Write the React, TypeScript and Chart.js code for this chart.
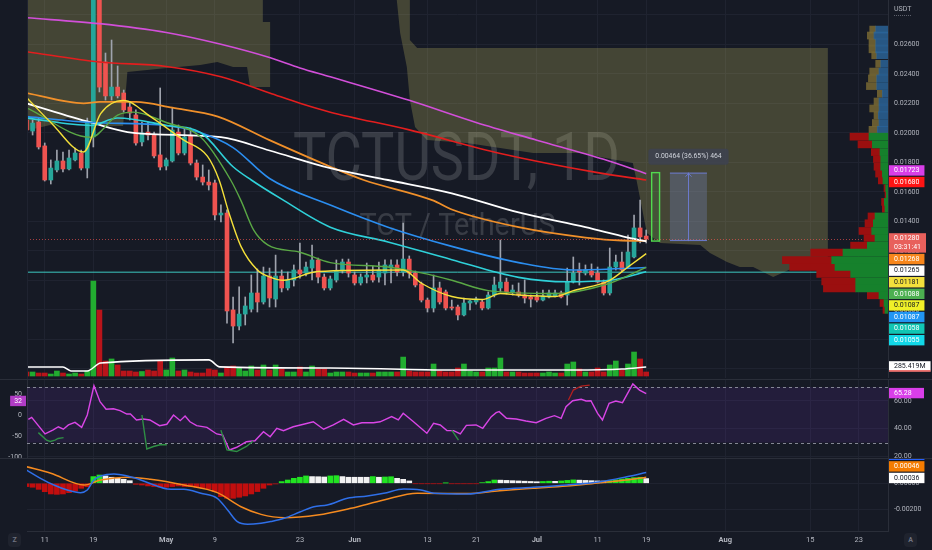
import React, { useEffect, useRef } from "react";
import { Chart, registerables } from "chart.js";

Chart.register(...registerables);

const FONT = "Roboto, 'Liberation Sans', sans-serif";
Chart.defaults.font.family = FONT;

const BG = "#161a25";
const GRID = "#1f2330";
const BORDER = "#2a2e39";
const AXIS_TEXT = "#b2b5be";

// ---------- time axis (day index, 0 = 8 Apr) ----------
const DAY_MIN = 0.08;
const DAY_MAX = 141.8;
const TICK_DAYS = [3, 11, 23, 31, 45, 54, 66, 74, 84, 94, 102, 115, 129, 137];
const TICK_LABELS = ["11", "19", "May", "9", "23", "Jun", "13", "21", "Jul", "11", "19", "Aug", "15", "23"];
const MONTHS = ["May", "Jun", "Jul", "Aug"];

// ---------- price panel ----------
const PRICE_MIN = 0.003376;
const PRICE_MAX = 0.029004;

const OPEN = [
  0.02087, 0.02012, 0.02073, 0.01911, 0.0168, 0.01748, 0.01809, 0.01755, 0.01816, 0.01863,
  0.01761, 0.01972, 0.0305, 0.0248, 0.0225, 0.0231, 0.0227, 0.02175, 0.02121, 0.01938,
  0.02005, 0.01985, 0.0185, 0.01775, 0.01809, 0.02005, 0.01863, 0.01985, 0.01795, 0.017,
  0.01666, 0.0166, 0.01443, 0.01456, 0.00799, 0.0069, 0.00771, 0.00805, 0.00914, 0.00853,
  0.01029, 0.00873, 0.01029, 0.00948, 0.01002, 0.0107, 0.01049, 0.01083, 0.01138, 0.01022,
  0.00948, 0.01002, 0.01063, 0.01124, 0.01036, 0.00982, 0.01022, 0.01036, 0.01022, 0.01049,
  0.01083, 0.01104, 0.01056, 0.01144, 0.01049, 0.00975, 0.00866, 0.00812, 0.00948, 0.00921,
  0.00819, 0.00819, 0.00765, 0.00846, 0.00853, 0.00853, 0.00812, 0.009, 0.00948, 0.00988,
  0.00921, 0.00921, 0.009, 0.00887, 0.00887, 0.00866, 0.00887, 0.00894, 0.00914, 0.009,
  0.00988, 0.0107, 0.01049, 0.01063, 0.01049, 0.00988, 0.00914, 0.0109, 0.01124, 0.0109,
  0.01158, 0.01355, 0.013,
];
const HIGH = [
  0.02107, 0.02087, 0.021, 0.01931, 0.01816, 0.01883, 0.0187, 0.01883, 0.01897, 0.01883,
  0.021, 0.032, 0.0315, 0.02541, 0.02629, 0.02453, 0.0229, 0.02202, 0.02155, 0.02073,
  0.02073, 0.02005, 0.02304, 0.01829, 0.02168, 0.02053, 0.02033, 0.02033, 0.01816, 0.01782,
  0.01748, 0.0168, 0.01511, 0.01477, 0.00887, 0.00955, 0.00887, 0.01036, 0.01077, 0.0109,
  0.01083, 0.01171, 0.0107, 0.01056, 0.01104, 0.01253, 0.01124, 0.01239, 0.01151, 0.01043,
  0.01029, 0.01138, 0.01144, 0.01144, 0.01056, 0.01043, 0.01117, 0.01097, 0.01124, 0.01138,
  0.01138, 0.01138, 0.01388, 0.01165, 0.01063, 0.00988, 0.0088, 0.01036, 0.00988, 0.00934,
  0.00866, 0.00832, 0.0088, 0.00866, 0.00887, 0.00866, 0.00921, 0.01022, 0.01273, 0.01015,
  0.00968, 0.00982, 0.01002, 0.009, 0.00921, 0.00934, 0.00934, 0.00934, 0.00927, 0.01083,
  0.01158, 0.01117, 0.01104, 0.01111, 0.0109, 0.01002, 0.01219, 0.01171, 0.01192, 0.01307,
  0.01443, 0.01544, 0.01341,
];
const LOW = [
  0.01999, 0.01985, 0.0189, 0.01673, 0.01653, 0.01734, 0.01734, 0.01748, 0.01809, 0.01748,
  0.01694, 0.01904, 0.02277, 0.02222, 0.02222, 0.02236, 0.02141, 0.02087, 0.01917, 0.01911,
  0.01951, 0.01829, 0.01748, 0.01748, 0.01802, 0.0185, 0.0185, 0.01782, 0.0168, 0.01646,
  0.01612, 0.01409, 0.01395, 0.0071, 0.00575, 0.00663, 0.00697, 0.00785, 0.00785, 0.00839,
  0.00819, 0.00819, 0.00921, 0.00934, 0.00961, 0.01015, 0.01029, 0.01002, 0.00982, 0.00934,
  0.00934, 0.00988, 0.01049, 0.01022, 0.00968, 0.00968, 0.00982, 0.00988, 0.00988, 0.00968,
  0.00982, 0.01029, 0.01029, 0.01015, 0.00955, 0.00853, 0.00785, 0.00785, 0.00839, 0.00799,
  0.00799, 0.00731, 0.00758, 0.00799, 0.00839, 0.00799, 0.00805, 0.00887, 0.00921, 0.00907,
  0.009, 0.00887, 0.00846, 0.00819, 0.00853, 0.0086, 0.0088, 0.00887, 0.0088, 0.00832,
  0.00982, 0.00968, 0.01036, 0.01022, 0.00982, 0.009, 0.009, 0.0107, 0.01056, 0.01083,
  0.01151, 0.01253, 0.01253,
];
const CLOSE = [
  0.02019, 0.02066, 0.01904, 0.0168, 0.01761, 0.01809, 0.01755, 0.01829, 0.01863, 0.01761,
  0.02073, 0.0305, 0.0231, 0.0225, 0.0231, 0.0225, 0.02155, 0.02134, 0.01931, 0.01999,
  0.01985, 0.01843, 0.01768, 0.01816, 0.02019, 0.01863, 0.01972, 0.01795, 0.017, 0.01666,
  0.01646, 0.01443, 0.01456, 0.00792, 0.0069, 0.00771, 0.00826, 0.00914, 0.00853, 0.01029,
  0.0088, 0.01029, 0.00948, 0.01002, 0.0107, 0.01043, 0.0109, 0.01138, 0.01022, 0.00948,
  0.01009, 0.01063, 0.01124, 0.01049, 0.00982, 0.01022, 0.01036, 0.01002, 0.0107, 0.01104,
  0.01104, 0.01056, 0.01144, 0.01049, 0.00968, 0.00866, 0.00812, 0.00948, 0.00853, 0.00812,
  0.00812, 0.00765, 0.00846, 0.0086, 0.00873, 0.00812, 0.009, 0.00968, 0.00988, 0.00921,
  0.00934, 0.009, 0.0088, 0.00873, 0.00866, 0.00894, 0.00914, 0.00914, 0.00887, 0.00988,
  0.01049, 0.01056, 0.0107, 0.01036, 0.00988, 0.00914, 0.0109, 0.01124, 0.0107, 0.01192,
  0.01355, 0.01294, 0.0128,
];
// volume in millions
const VOLUME = [
  127, 127, 95, 95, 63, 158, 95, 63, 95, 63,
  158, 3010, 2090, 475, 540, 350, 158, 158, 127, 143,
  190, 158, 475, 190, 570, 158, 190, 127, 95, 95,
  222, 190, 95, 285, 317, 254, 158, 317, 190, 349,
  190, 349, 222, 127, 127, 285, 127, 317, 222, 222,
  95, 127, 127, 127, 95, 95, 95, 95, 127, 127,
  127, 127, 600, 158, 127, 127, 127, 380, 158, 127,
  127, 254, 380, 158, 127, 127, 254, 254, 570, 127,
  127, 127, 95, 95, 95, 95, 127, 95, 95, 380,
  444, 222, 127, 127, 254, 127, 349, 475, 190, 380,
  760, 540, 127,
];
const VOLUME_MA = [[0, 285], [6, 285], [7.3, 160], [10, 160], [12.2, 410], [30, 510], [31.8, 290], [50, 255], [70, 190], [90, 190], [98, 220], [102, 285.419]];

const MA_MAGENTA = [[0, 0.0278], [12, 0.0274], [23, 0.0268], [32, 0.026], [40, 0.0251], [45, 0.0244], [50, 0.0238], [63, 0.0222], [74, 0.0207], [84, 0.0195], [95, 0.0182], [102, 0.01723]];
const MA_RED = [[0, 0.0255], [12, 0.0248], [23, 0.0245], [32, 0.0238], [40, 0.0227], [45, 0.022], [50, 0.0214], [63, 0.0202], [78, 0.0186], [94, 0.0173], [102, 0.0168]];
const MA_ORANGE = [[0, 0.0227], [9.4, 0.022], [12, 0.0221], [18, 0.0221], [24, 0.0217], [31.5, 0.0211], [40, 0.0195], [50, 0.0177], [55.5, 0.0168], [67, 0.0154], [70, 0.0148], [81, 0.0136], [92, 0.0129], [98, 0.0127], [102, 0.01268]];
const MA_WHITE = [[0, 0.022], [10.6, 0.0207], [17.6, 0.02], [32, 0.0197], [40, 0.0188], [50, 0.0176], [59.5, 0.0168], [70, 0.0159], [81, 0.0146], [92, 0.0136], [99, 0.0129], [102, 0.01265]];
const MA_BLUE = [[0, 0.0211], [10.6, 0.0207], [23, 0.0205], [28.7, 0.02], [34, 0.019], [40, 0.0169], [50, 0.0151], [59.5, 0.0136], [70, 0.0123], [81, 0.0112], [90, 0.0107], [102, 0.01087]];
const MA_CYAN = [[0, 0.021], [10.6, 0.0205], [15, 0.021], [23, 0.0205], [28.7, 0.02], [34, 0.0177], [37, 0.0168], [42, 0.0155], [50, 0.0136], [59.5, 0.0126], [70, 0.0114], [81, 0.0102], [89, 0.0099], [96, 0.01], [102, 0.01058]];
const MA_GREEN = [[0, 0.0217], [10.6, 0.0197], [15, 0.0212], [17.6, 0.0214], [23, 0.0207], [28.7, 0.0197], [33.6, 0.0168], [35.3, 0.0154], [37.4, 0.0134], [39.7, 0.0124], [45, 0.0119], [50, 0.0112], [59.5, 0.0109], [65, 0.0105], [70, 0.01], [76, 0.0093], [87, 0.0091], [96, 0.0098], [102, 0.01088]];
const MA_YELLOW = [[0, 0.0224], [4, 0.0207], [9.4, 0.0187], [12.2, 0.0213], [16, 0.0222], [20.4, 0.0211], [25.9, 0.0195], [29.8, 0.0184], [31.7, 0.0168], [33.3, 0.0146], [35.3, 0.0123], [38, 0.0107], [40.2, 0.0102], [42.3, 0.01], [47.9, 0.0106], [62, 0.0107], [65, 0.0098], [70, 0.0089], [75, 0.0087], [78, 0.0091], [81, 0.009], [87, 0.0089], [90, 0.0093], [96, 0.01], [99, 0.0109], [102, 0.01181]];

const CLOUD_A = [[-1, 0.03], [-1, 0.02005], [3.9, 0.02053], [6.7, 0.021], [9.3, 0.02066], [11.6, 0.02046], [15.9, 0.02046], [16.6, 0.02412], [23.1, 0.02439], [28.6, 0.0246], [31.4, 0.0248], [34, 0.02446], [36.3, 0.02446], [36.8, 0.02311], [40.1, 0.02311], [40.1, 0.02751], [38.9, 0.02751], [38.9, 0.03]];
const CLOUD_B = [[60.7, 0.03], [63.1, 0.03], [63.1, 0.02629], [64.3, 0.02575], [131.9, 0.02575], [131.9, 0.01124], [126.2, 0.01084], [122.9, 0.01022], [119.6, 0.0109], [117.4, 0.0109], [115.3, 0.01124], [112.5, 0.01185], [110.9, 0.01239], [104.3, 0.01253], [102.1, 0.01321], [100.4, 0.0168], [99.8, 0.01795], [94.4, 0.01836], [91.6, 0.01863], [83.4, 0.01863], [72.5, 0.01931], [65.9, 0.01951], [63.95, 0.0204], [63.1, 0.02222], [62.6, 0.02446], [61.5, 0.02677]];

const LEVEL_LINE = 0.01055;
const EXTRA_LEVEL = 0.01087;
const COUNTDOWN = "03:31:41";
const MEASURE_LOW = 0.01266;
const MEASURE_HIGH = 0.0173;
const MEASURE_BAR_DAYS = [102.9, 104.2];
const MEASURE_BOX_DAYS = [105.9, 112.0];

// volume profile (relative volume per price row)
const VP_PRICES = [0.0288, 0.02833, 0.02778, 0.02724, 0.02677, 0.02609, 0.02548, 0.02494, 0.02433, 0.02372, 0.02311, 0.02256, 0.02202, 0.02141, 0.02087, 0.02033, 0.01972, 0.01911, 0.01856, 0.01795, 0.01741, 0.01687, 0.01626, 0.01572, 0.01517, 0.01463, 0.01402, 0.01348, 0.01287, 0.01232, 0.01171, 0.01117, 0.01056, 0.01002, 0.00948, 0.00887, 0.00832, 0.00778, 0.00717, 0.00663];
const VP_UP = [12.3, 14, 12.3, 12.3, 11.3, 7.3, 9, 11.3, 11.3, 5.7, 9, 9, 9.7, 9, 10.7, 19, 15.7, 8, 7.3, 7.3, 5.7, 5, 2.3, 1.7, 3.7, 3, 13, 14.7, 16.3, 13, 20.7, 45, 56.3, 53, 37.3, 32.3, 32.3, 9, 4, 3];
const VP_DOWN = [6, 6.7, 6.7, 6.7, 5, 5, 9.3, 8.3, 10.3, 5, 5, 9.3, 4.3, 6.7, 8.3, 19, 14.3, 8.7, 7.3, 6.7, 6.7, 4.7, 1.7, 1.3, 2.7, 2.7, 7, 8.3, 12.7, 11, 16.7, 32.3, 49.3, 45.3, 34, 34, 32.3, 11.7, 4, 2];
const VP_OUTSIDE_ROWS = 15;

// ---------- RSI panel ----------
const RSI_MIN = 18.84, RSI_MAX = 75.16;
const OSC_MIN = -102.4, OSC_MAX = 83.3;
const RSI = [[0.3, 46.8], [0.85, 48.2], [3.05, 36.2], [4.4, 39.1], [5.24, 41.4], [6.06, 39.6], [6.9, 42.7], [7.98, 44.6], [9.08, 41], [10, 49.9], [11.1, 71], [12.1, 59.5], [13.1, 54], [14.3, 54.4], [15.4, 53], [16.5, 50.6], [17.1, 50.6], [18.1, 46.3], [19.2, 47], [20.3, 46.3], [21.9, 42.2], [23.1, 43.2], [24.2, 49.9], [25.3, 45.8], [26.1, 49.2], [26.9, 45], [28, 42.2], [29.7, 41], [31.3, 36.2], [32.3, 35.4], [33.4, 24.6], [34.6, 26.6], [36.2, 30.6], [37.6, 31.3], [39, 37.8], [40.1, 34.2], [41.2, 40.3], [42.3, 38.6], [43.9, 41.4], [45.6, 43.2], [47.2, 45], [48.9, 39.6], [50.5, 42.7], [52.2, 46.8], [53.8, 42.7], [55.2, 44.3], [57.1, 44.3], [58.2, 45], [60.1, 48.7], [61.2, 46.3], [62, 51.1], [63.7, 45], [65.9, 36.7], [67, 43.9], [68.1, 42.7], [69.2, 38.6], [70.3, 38.6], [71.4, 36.2], [72.4, 42.4], [74, 42.7], [75.1, 40.3], [76.5, 48.7], [77.3, 51.6], [77.8, 52.3], [79, 47.5], [80.6, 47], [82.2, 45.6], [83.9, 44.3], [85.5, 47.5], [86.9, 49.4], [88, 47.5], [88.8, 55.9], [89.9, 60.2], [91.3, 61.2], [92.1, 60], [92.9, 60.2], [94, 51.1], [94.8, 46.3], [95.9, 58.3], [97, 60], [98.1, 58.8], [99.8, 72.3], [100.9, 67.9], [102, 65.28]];
const RSI_DIV = [[89.2, 60.7], [90, 67.9], [91.3, 70.8], [92.7, 71.5]];
const OSC = [[1.95, -42], [3.3, -60], [3.9, -63], [4.7, -60], [5.2, -56], [6.1, -54], [6.6, null], [19.0, 0], [19.8, -81], [20.9, -75], [22.0, -71], [23.1, -71], [23.6, null], [32.0, -36], [33.0, -83], [34.6, -87], [36.2, -75], [37.3, -62], [37.8, null], [70.0, -36], [71.1, -60]];
const OSC_VALUE = 32;

// ---------- MACD panel ----------
const MACD_MIN = -0.003625, MACD_MAX = 0.001847;
const MACD_LINE = [[0, 0.00101], [2.3, 0.00038], [4.5, -0.00013], [6.7, -0.00051], [8.9, -0.00071], [10, -0.00051], [11.1, 0.00025], [12.2, 0.00055], [14.4, 0.00071], [16.6, 0.00055], [18.8, 0.00025], [21, -0.00013], [23.2, -0.00043], [25.9, -0.00046], [28.7, -0.00076], [31.4, -0.00114], [33.1, -0.00203], [34.7, -0.00292], [36.4, -0.00312], [38.6, -0.00304], [40.2, -0.00291], [42.4, -0.00266], [45.1, -0.00216], [47.3, -0.00178], [49.5, -0.00165], [52.8, -0.00114], [56.1, -0.00097], [58.8, -0.00076], [62.1, -0.00043], [64.9, -0.00051], [67.1, -0.00076], [72.5, -0.00082], [77.9, -0.00046], [83.4, -0.0003], [88.9, -0.00013], [94.4, 0.00012], [98.8, 0.0005], [102, 0.00082]];
const MACD_SIGNAL = [[0, 0.00126], [4, 0.00076], [9.5, -0.00013], [12.2, 0.00025], [16.6, 0.00046], [20.4, 0.0003], [25.9, -0.00013], [31.4, -0.00071], [35.3, -0.00178], [38.6, -0.00236], [42.4, -0.00261], [47.9, -0.00241], [53.4, -0.0019], [58.8, -0.00127], [64.3, -0.00076], [72.5, -0.00078], [77.9, -0.00056], [83.4, -0.00038], [88.9, -0.00021], [94.4, 0.00005], [98.8, 0.00025], [102, 0.00046]];
const MACD_HIST = [
  -0.00025, -0.0003, -0.00046, -0.00064, -0.00081, -0.00084, -0.00081, -0.00071, -0.00059, -0.00038,
  -0.00026, 0.00051, 0.00063, 0.00056, 0.00046, 0.00038, 0.0003, 0.0002, -0.00008, -0.00013,
  -0.0002, -0.00025, -0.0003, -0.0003, -0.00025, -0.0002, -0.00025, -0.00025, -0.0003, -0.00038,
  -0.00043, -0.00063, -0.00101, -0.00114, -0.00114, -0.00106, -0.00096, -0.00081, -0.00063, -0.00038,
  -0.00013, -0.00005, 0.00013, 0.00025, 0.00038, 0.00046, 0.00056, 0.00051, 0.0005, 0.00048,
  0.00056, 0.00058, 0.00051, 0.00046, 0.00046, 0.00046, 0.00046, 0.00051, 0.00046, 0.00048,
  0.0005, 0.00038, 0.0003, 0.00018, -0.00003, -0.00003, -0.00003, -0.00003, -0.00003, 0.00002,
  -0.00003, -0.00003, -0.00003, -0.00003, -0.00003, 0.00005, 0.00013, 0.00025, 0.00024, 0.00022,
  0.0002, 0.00018, 0.00016, 0.00014, 0.00012, 0.00014, 0.00016, 0.00015, 0.00018, 0.00022,
  0.00026, 0.00024, 0.00022, 0.0002, 0.00018, 0.00017, 0.00022, 0.00027, 0.00033, 0.00038,
  0.00043, 0.00046, 0.00036,
];

// ---------- helpers ----------
const pts = (a: any[]) => a.map(([x, y]: any) => ({ x, y }));
const last = (a: any[]) => a[a.length - 1][1];
const DAYS = OPEN.map((_, i) => i);
const isUp = (i: number) => CLOSE[i] >= OPEN[i];

function rightAxisFit(width: number) {
  return (s: any) => {
    s.width = width;
    s.paddingTop = 0;
    s.paddingBottom = 0;
  };
}

function xScale(showLabels: boolean): any {
  return {
    type: "linear",
    min: DAY_MIN,
    max: DAY_MAX,
    offset: false,
    afterBuildTicks: (s: any) => {
      s.ticks = TICK_DAYS.map((v) => ({ value: v }));
    },
    ticks: {
      display: showLabels,
      autoSkip: false,
      maxRotation: 0,
      padding: 5,
      color: AXIS_TEXT,
      font: (c: any) => ({ family: FONT, size: 7.5, weight: MONTHS.includes(TICK_LABELS[c.index]) ? "bold" : "normal" }),
      callback: (_v: any, i: number) => TICK_LABELS[i] ?? "",
    },
    grid: { color: GRID, drawTicks: false, offset: false },
    border: { display: showLabels, color: BORDER },
    afterFit: (s: any) => {
      s.height = showLabels ? 19 : 0;
      s.paddingLeft = 0;
      s.paddingRight = 0;
    },
  };
}

function lineDs(data: any[], color: string, width = 1.6, extra: any = {}): any {
  return {
    type: "line",
    data: pts(data),
    borderColor: color,
    borderWidth: width,
    pointRadius: 0,
    fill: false,
    cubicInterpolationMode: "monotone",
    ...extra,
  };
}

type Tag = { value: number; text: string; sub?: string; bg: string; fg: string; fixed?: boolean; under?: string; scale: string; side?: string };

function drawTags(chart: any, tags: Tag[]) {
  const ctx = chart.ctx;
  const ca = chart.chartArea;
  const SLOT = 11.6;
  const items = tags
    .map((t) => {
      const y = chart.scales[t.scale].getPixelForValue(t.value);
      return { t, top: y - SLOT / 2, h: t.sub ? SLOT * 1.78 : SLOT };
    })
    .sort((a, b) => a.top - b.top);
  for (let it = 0; it < 500; it++) {
    let moved = false;
    for (let i = 0; i < items.length - 1; i++) {
      const a = items[i], b = items[i + 1];
      const ov = a.top + a.h - b.top;
      if (ov > 0.01) {
        moved = true;
        if (a.t.fixed) b.top += ov;
        else if (b.t.fixed) a.top -= ov;
        else { a.top -= ov / 2; b.top += ov / 2; }
      }
    }
    if (!moved) break;
  }
  ctx.save();
  ctx.font = `7px ${FONT}`;
  ctx.textBaseline = "middle";
  for (const { t, top, h } of items) {
    const lines = t.sub ? [t.text, t.sub] : [t.text];
    const tw = Math.max(...lines.map((l) => ctx.measureText(l).width));
    const boxH = h - 1.2;
    if (t.side === "left") {
      const right = ca.left - 1;
      const w = tw + 8;
      ctx.fillStyle = t.bg;
      ctx.fillRect(right - w, top, w, boxH);
      ctx.fillStyle = t.fg;
      ctx.textAlign = "right";
      ctx.fillText(t.text, right - 4, top + boxH / 2);
    } else {
      const left = ca.right + 1;
      const w = Math.max(35, tw + 10);
      ctx.fillStyle = t.bg;
      ctx.fillRect(left, top, w, boxH);
      if (t.under) {
        ctx.fillStyle = t.under;
        ctx.fillRect(left, top + boxH - 1.3, w, 1.3);
      }
      ctx.fillStyle = t.fg;
      ctx.textAlign = "left";
      lines.forEach((l, k) => ctx.fillText(l, left + 5, top + SLOT / 2 - 0.6 + k * 9.3));
    }
  }
  ctx.restore();
}

function stretchedText(ctx: any, txt: string, cx: number, baseline: number, size: number, width: number, color: string) {
  ctx.save();
  ctx.font = `${size}px ${FONT}`;
  const w = ctx.measureText(txt).width;
  ctx.translate(cx, baseline);
  ctx.scale(width / w, 1);
  ctx.fillStyle = color;
  ctx.textAlign = "center";
  ctx.textBaseline = "alphabetic";
  ctx.fillText(txt, 0, 0);
  ctx.restore();
}

// ---------- tags ----------
const PRICE_TAGS: Tag[] = [
  { value: last(MA_MAGENTA), text: last(MA_MAGENTA).toFixed(5), bg: "#d83ee8", fg: "#ffffff", scale: "y" },
  { value: last(MA_RED), text: last(MA_RED).toFixed(5), bg: "#ff1414", fg: "#ffffff", scale: "y" },
  { value: CLOSE[CLOSE.length - 1], text: CLOSE[CLOSE.length - 1].toFixed(5), sub: COUNTDOWN, bg: "#e8605c", fg: "#ffffff", fixed: true, scale: "y" },
  { value: last(MA_ORANGE), text: last(MA_ORANGE).toFixed(5), bg: "#f7861c", fg: "#ffffff", scale: "y" },
  { value: last(MA_WHITE), text: last(MA_WHITE).toFixed(5), bg: "#ffffff", fg: "#131722", scale: "y" },
  { value: last(MA_YELLOW), text: last(MA_YELLOW).toFixed(5), bg: "#f3e03c", fg: "#131722", scale: "y" },
  { value: last(MA_GREEN), text: last(MA_GREEN).toFixed(5), bg: "#4caf50", fg: "#ffffff", scale: "y" },
  { value: EXTRA_LEVEL, text: EXTRA_LEVEL.toFixed(5), bg: "#f0f028", fg: "#131722", scale: "y" },
  { value: last(MA_BLUE), text: last(MA_BLUE).toFixed(5), bg: "#2196f3", fg: "#ffffff", scale: "y" },
  { value: last(MA_CYAN), text: last(MA_CYAN).toFixed(5), bg: "#11c6b3", fg: "#ffffff", scale: "y" },
  { value: LEVEL_LINE, text: LEVEL_LINE.toFixed(5), bg: "#12d8e8", fg: "#ffffff", scale: "y" },
  { value: last(VOLUME_MA), text: `${last(VOLUME_MA).toFixed(3)}M`, bg: "#ffffff", fg: "#131722", under: "#e53935", scale: "yVol" },
];

// ---------- plugins ----------
const pricePlugin = {
  id: "pricePanel",
  beforeDatasetsDraw(chart: any) {
    const { ctx, chartArea: ca } = chart;
    ctx.save();
    ctx.beginPath();
    ctx.rect(ca.left, ca.top, ca.width, ca.height);
    ctx.clip();
    const cx = (ca.left + ca.right) / 2;
    stretchedText(ctx, "TCTUSDT, 1D", cx - 1, 180, 66, 327, "rgba(255,255,255,0.15)");
    stretchedText(ctx, "TCT / TetherUS", cx, 235, 32, 196, "rgba(255,255,255,0.15)");
    ctx.restore();
  },
  afterDatasetsDraw(chart: any) {
    const { ctx, chartArea: ca, scales } = chart;
    const xs = scales.x, ys = scales.y;
    ctx.save();
    // current price line
    const py = ys.getPixelForValue(CLOSE[CLOSE.length - 1]);
    ctx.strokeStyle = "rgba(239,83,80,0.65)";
    ctx.lineWidth = 1;
    ctx.setLineDash([1, 2]);
    ctx.beginPath();
    ctx.moveTo(ca.left, py + 0.5);
    ctx.lineTo(ca.right, py + 0.5);
    ctx.stroke();
    ctx.setLineDash([]);
    // measure tool
    const yT = ys.getPixelForValue(MEASURE_HIGH), yB = ys.getPixelForValue(MEASURE_LOW);
    const gx1 = xs.getPixelForValue(MEASURE_BAR_DAYS[0]), gx2 = xs.getPixelForValue(MEASURE_BAR_DAYS[1]);
    ctx.fillStyle = "rgba(70,200,70,0.12)";
    ctx.fillRect(gx1, yT, gx2 - gx1, yB - yT);
    ctx.strokeStyle = "#52d94f";
    ctx.lineWidth = 1.4;
    ctx.strokeRect(gx1, yT, gx2 - gx1, yB - yT);
    const bx1 = xs.getPixelForValue(MEASURE_BOX_DAYS[0]), bx2 = xs.getPixelForValue(MEASURE_BOX_DAYS[1]);
    ctx.fillStyle = "rgba(120,135,200,0.3)";
    ctx.fillRect(bx1, yT, bx2 - bx1, yB - yT);
    ctx.strokeStyle = "rgba(110,125,215,0.9)";
    ctx.lineWidth = 1;
    ctx.beginPath();
    ctx.moveTo(bx1, yT + 0.5); ctx.lineTo(bx2, yT + 0.5);
    ctx.moveTo(bx1, yB - 0.5); ctx.lineTo(bx2, yB - 0.5);
    const mx = Math.round((bx1 + bx2) / 2) + 0.5;
    ctx.moveTo(mx, yB); ctx.lineTo(mx, yT);
    ctx.moveTo(mx - 3, yT + 4); ctx.lineTo(mx, yT + 1); ctx.lineTo(mx + 3, yT + 4);
    ctx.stroke();
    const diff = MEASURE_HIGH - MEASURE_LOW;
    const label = `${diff.toFixed(5)} (${((diff / MEASURE_LOW) * 100).toFixed(2)}%) ${Math.round(diff * 1e5)}`;
    ctx.font = `6.8px ${FONT}`;
    const tw = ctx.measureText(label).width;
    const bw = tw + 14, bh = 16;
    const lx = mx - bw / 2, ly = yT - 8 - bh;
    ctx.fillStyle = "rgba(62,66,78,0.92)";
    ctx.beginPath();
    ctx.roundRect(lx, ly, bw, bh, 3);
    ctx.fill();
    ctx.fillStyle = "#d1d4dc";
    ctx.textAlign = "center";
    ctx.textBaseline = "middle";
    ctx.fillText(label, mx, ly + bh / 2);
    ctx.restore();
  },
  afterDraw(chart: any) {
    const { ctx, chartArea: ca } = chart;
    drawTags(chart, PRICE_TAGS);
    ctx.save();
    ctx.font = `7px ${FONT}`;
    ctx.fillStyle = AXIS_TEXT;
    ctx.textAlign = "left";
    ctx.textBaseline = "middle";
    ctx.fillText("USDT", ca.right + 6, 9);
    ctx.strokeStyle = "#5d606b";
    ctx.setLineDash([1, 1]);
    ctx.beginPath();
    ctx.moveTo(ca.right + 6, 15.5);
    ctx.lineTo(ca.right + 24, 15.5);
    ctx.stroke();
    ctx.restore();
  },
};

const rsiPlugin = {
  id: "rsiPanel",
  beforeDatasetsDraw(chart: any) {
    const { ctx, chartArea: ca, scales } = chart;
    const y70 = scales.yR.getPixelForValue(70), y30 = scales.yR.getPixelForValue(30);
    ctx.save();
    ctx.fillStyle = "rgba(120,50,200,0.14)";
    ctx.fillRect(ca.left, y70, ca.width, y30 - y70);
    ctx.strokeStyle = "rgba(160,163,175,0.8)";
    ctx.lineWidth = 1;
    ctx.setLineDash([3, 3]);
    ctx.beginPath();
    ctx.moveTo(ca.left, Math.round(y70) + 0.5); ctx.lineTo(ca.right, Math.round(y70) + 0.5);
    ctx.moveTo(ca.left, Math.round(y30) + 0.5); ctx.lineTo(ca.right, Math.round(y30) + 0.5);
    ctx.stroke();
    ctx.restore();
  },
  afterDraw(chart: any) {
    drawTags(chart, [{ value: last(RSI), text: last(RSI).toFixed(2), bg: "#d93ee9", fg: "#ffffff", scale: "yR" }]);
    drawTags(chart, [{ value: OSC_VALUE, text: String(OSC_VALUE), bg: "#b13cc6", fg: "#ffffff", scale: "yL", side: "left" }]);
  },
};

const macdPlugin = {
  id: "macdPanel",
  afterDraw(chart: any) {
    drawTags(chart, [
      { value: last(MACD_LINE), text: last(MACD_LINE).toFixed(5), bg: "#2962ff", fg: "#ffffff", scale: "y" },
      { value: last(MACD_SIGNAL), text: last(MACD_SIGNAL).toFixed(5), bg: "#f57c00", fg: "#ffffff", scale: "y" },
      { value: MACD_HIST[MACD_HIST.length - 1], text: MACD_HIST[MACD_HIST.length - 1].toFixed(5), bg: "#ffffff", fg: "#131722", fixed: true, scale: "y" },
    ]);
  },
};

const tickFont = { family: FONT, size: 7 };

function makePrice(canvas: HTMLCanvasElement) {
  const datasets: any[] = [
    { type: "line", data: pts(CLOUD_A), fill: "shape", backgroundColor: "rgba(230,222,112,0.22)", borderWidth: 0, pointRadius: 0, order: 30 },
    { type: "line", data: pts(CLOUD_B), fill: "shape", backgroundColor: "rgba(230,222,112,0.22)", borderWidth: 0, pointRadius: 0, order: 30 },
    {
      type: "bar", data: DAYS.map((i) => ({ x: i, y: VOLUME[i] })), yAxisID: "yVol",
      backgroundColor: DAYS.map((i) => (isUp(i) ? "#22ad30" : "#b9141a")), barThickness: 5, grouped: false, order: 25,
    },
    lineDs(VOLUME_MA, "#ffffff", 1.6, { yAxisID: "yVol", order: 24 }),
    lineDs([[DAY_MIN, LEVEL_LINE], [DAY_MAX, LEVEL_LINE]], "#3cc8c0", 1, { order: 23 }),
    {
      type: "bar", data: DAYS.map((i) => ({ x: i, y: [LOW[i], HIGH[i]] })),
      backgroundColor: "#9fa3ad", barThickness: 1, grouped: false, order: 22,
    },
    {
      type: "bar", data: DAYS.map((i) => ({ x: i, y: [OPEN[i], CLOSE[i]] })),
      backgroundColor: DAYS.map((i) => (isUp(i) ? "#26a69a" : "#ef5350")), barThickness: 4, minBarLength: 1, grouped: false, order: 21,
    },
    lineDs(MA_MAGENTA, "#d24fd9", 1.6, { order: 9 }),
    lineDs(MA_RED, "#e31e1e", 1.6, { order: 8 }),
    lineDs(MA_ORANGE, "#f0902a", 1.8, { order: 7 }),
    lineDs(MA_WHITE, "#ffffff", 1.8, { order: 6 }),
    lineDs(MA_BLUE, "#2b8ef0", 1.6, { order: 5 }),
    lineDs(MA_CYAN, "#2fd1d9", 1.6, { order: 4 }),
    lineDs(MA_GREEN, "#5aa845", 1.4, { order: 3 }),
    lineDs(MA_YELLOW, "#f5e13a", 1.4, { order: 2 }),
  ];
  return new Chart(canvas, {
    type: "bar",
    data: { datasets },
    options: {
      animation: false,
      responsive: false,
      events: [],
      layout: { padding: { left: 27, right: 0, top: 0, bottom: 0 } },
      plugins: { legend: { display: false }, tooltip: { enabled: false } },
      scales: {
        x: xScale(false),
        y: {
          type: "linear", position: "right", min: PRICE_MIN, max: PRICE_MAX,
          afterFit: rightAxisFit(44),
          ticks: { stepSize: 0.002, includeBounds: false, padding: 6, color: AXIS_TEXT, font: tickFont, callback: (v: any) => (v > 0.0275 ? "" : Number(v).toFixed(5)) },
          grid: { color: GRID, drawTicks: false },
          border: { display: true, color: BORDER },
        },
        yVol: { type: "linear", display: false, min: -63.4, max: 11919 },
      },
    } as any,
    plugins: [pricePlugin],
  } as any);
}

function makeProfile(canvas: HTMLCanvasElement) {
  const inside = (i: number) => i >= VP_OUTSIDE_ROWS;
  return new Chart(canvas, {
    type: "bar",
    data: {
      datasets: [
        {
          data: VP_PRICES.map((p, i) => ({ y: p, x: VP_UP[i] })),
          backgroundColor: VP_PRICES.map((_, i) => (inside(i) ? "#16812c" : "rgba(44,102,156,0.8)")),
          barThickness: 7, stack: "vp",
        },
        {
          data: VP_PRICES.map((p, i) => ({ y: p, x: VP_DOWN[i] })),
          backgroundColor: VP_PRICES.map((_, i) => (inside(i) ? "#9b0f0f" : "rgba(120,104,52,0.85)")),
          barThickness: 7, stack: "vp",
        },
      ],
    },
    options: {
      indexAxis: "y",
      animation: false,
      responsive: false,
      events: [],
      layout: { padding: 0 },
      plugins: { legend: { display: false }, tooltip: { enabled: false } },
      scales: {
        x: { type: "linear", reverse: true, min: 0, max: 108, display: false, stacked: true },
        y: { type: "linear", min: PRICE_MIN, max: PRICE_MAX, display: false, stacked: true },
      },
    } as any,
  } as any);
}

function makeRSI(canvas: HTMLCanvasElement) {
  return new Chart(canvas, {
    type: "line",
    data: {
      datasets: [
        lineDs(OSC, "#2f8f45", 1.4, { yAxisID: "yL", spanGaps: false, cubicInterpolationMode: "default", tension: 0 }),
        lineDs(RSI_DIV, "#b3201f", 1.3, { yAxisID: "yR", tension: 0, cubicInterpolationMode: "default" }),
        lineDs(RSI, "#d946e6", 1.4, { yAxisID: "yR", tension: 0, cubicInterpolationMode: "default" }),
      ],
    },
    options: {
      animation: false,
      responsive: false,
      events: [],
      layout: { padding: 0 },
      plugins: { legend: { display: false }, tooltip: { enabled: false } },
      scales: {
        x: xScale(false),
        yR: {
          type: "linear", position: "right", min: RSI_MIN, max: RSI_MAX, afterFit: rightAxisFit(44),
          ticks: { stepSize: 20, includeBounds: false, padding: 6, color: AXIS_TEXT, font: tickFont, callback: (v: any) => Number(v).toFixed(2) },
          grid: { color: GRID, drawTicks: false },
          border: { display: true, color: BORDER },
        },
        yL: {
          type: "linear", position: "left", min: OSC_MIN, max: OSC_MAX, afterFit: rightAxisFit(27),
          ticks: { stepSize: 50, includeBounds: false, padding: 5, color: AXIS_TEXT, font: tickFont },
          grid: { display: false, drawTicks: false },
          border: { display: true, color: BORDER },
        },
      },
    } as any,
    plugins: [rsiPlugin],
  } as any);
}

function makeMACD(canvas: HTMLCanvasElement) {
  const colors = MACD_HIST.map((v, i) => {
    if (v < 0) return "#c20e0e";
    const prev = i > 0 ? MACD_HIST[i - 1] : -1;
    return v > prev ? "#22e422" : "#f2f2f2";
  });
  return new Chart(canvas, {
    type: "bar",
    data: {
      datasets: [
        lineDs(MACD_SIGNAL, "#f58a1f", 1.5, { order: 1 }),
        lineDs(MACD_LINE, "#2f6fe8", 1.5, { order: 0 }),
        { type: "bar", data: DAYS.map((i) => ({ x: i, y: MACD_HIST[i] })), backgroundColor: colors, barThickness: 5, grouped: false, order: 5 },
      ],
    },
    options: {
      animation: false,
      responsive: false,
      events: [],
      layout: { padding: { left: 27, right: 0, top: 0, bottom: 0 } },
      plugins: { legend: { display: false }, tooltip: { enabled: false } },
      scales: {
        x: xScale(true),
        y: {
          type: "linear", position: "right", min: MACD_MIN, max: MACD_MAX, afterFit: rightAxisFit(44),
          ticks: { stepSize: 0.002, includeBounds: false, padding: 6, color: AXIS_TEXT, font: tickFont, callback: (v: any) => Number(v).toFixed(5) },
          grid: { color: GRID, drawTicks: false },
          border: { display: true, color: BORDER },
        },
      },
    } as any,
    plugins: [macdPlugin],
  } as any);
}

function Canvas({ cref, left, top, width, height }: any) {
  return (
    <canvas
      ref={cref}
      width={width}
      height={height}
      style={{ position: "absolute", left, top, width, height }}
    />
  );
}

export default function App() {
  const priceRef = useRef<HTMLCanvasElement>(null);
  const vpRef = useRef<HTMLCanvasElement>(null);
  const rsiRef = useRef<HTMLCanvasElement>(null);
  const macdRef = useRef<HTMLCanvasElement>(null);

  useEffect(() => {
    const charts = [
      makePrice(priceRef.current!),
      makeProfile(vpRef.current!),
      makeRSI(rsiRef.current!),
      makeMACD(macdRef.current!),
    ];
    return () => charts.forEach((c) => c.destroy());
  }, []);

  const line = (style: any) => <div style={{ position: "absolute", background: BORDER, ...style }} />;
  const btn = (txt: string, left: number) => (
    <div
      style={{
        position: "absolute", left, top: 533, width: 13, height: 14, borderRadius: 4,
        background: "#1f232e", color: "#6f7380", font: `bold 7px ${FONT}`,
        display: "flex", alignItems: "center", justifyContent: "center",
      }}
    >
      {txt}
    </div>
  );

  return (
    <div style={{ position: "fixed", left: 0, top: 0, width: 932, height: 550, background: BG, overflow: "hidden" }}>
      <Canvas cref={priceRef} left={0} top={0} width={932} height={378} />
      <Canvas cref={vpRef} left={780} top={0} width={108} height={378} />
      {line({ left: 0, top: 379, width: 932, height: 1 })}
      <Canvas cref={rsiRef} left={0} top={380} width={932} height={78} />
      {line({ left: 0, top: 458, width: 932, height: 1 })}
      <Canvas cref={macdRef} left={0} top={459} width={932} height={91} />
      {line({ left: 27, top: 0, width: 1, height: 379, background: "#1f2330" })}
      {btn("Z", 8)}
      {btn("A", 904)}
    </div>
  );
}
